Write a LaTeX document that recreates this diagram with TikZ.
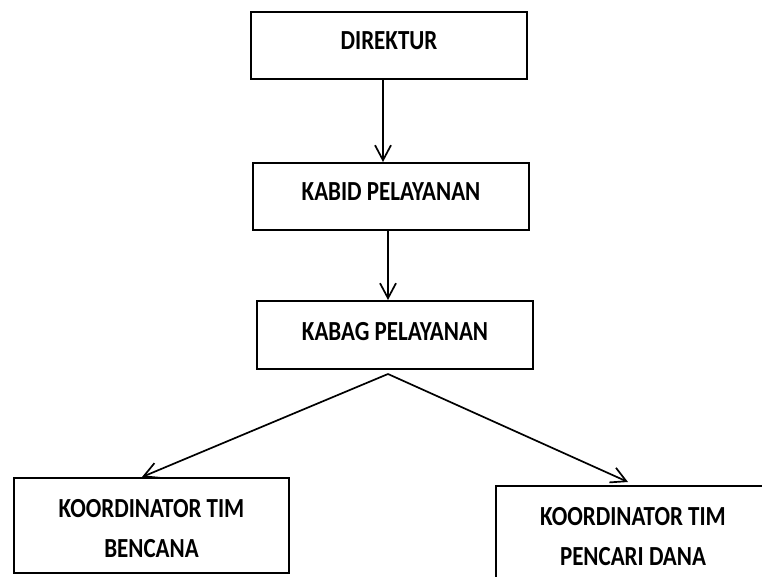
\documentclass[tikz,border=0pt]{standalone}
\usepackage{fontspec}
\usepackage{graphicx}
\setmainfont{Carlito}
\usetikzlibrary{arrows.meta}
\newcommand{\tall}[1]{\scalebox{1}[1.2]{#1}}
\tikzset{
  box/.style={draw=black, line width=2pt, rectangle, inner sep=0pt},
  lab/.style={font=\bfseries\fontsize{23}{40}\selectfont, align=center, inner sep=0pt},
  conn/.style={draw=black, line width=1.7pt, -{Straight Barb[length=15pt,width=16pt,line width=1.7pt]}}
}
\begin{document}
\begin{tikzpicture}[x=1pt,y=-1pt]
\clip (0,0) rectangle (762,577);
\fill[white] (0,0) rectangle (762,577);
\node[box, minimum width=276pt, minimum height=67pt,
  label={[lab,yshift=5pt]center:\tall{DIREKTUR}}] (dir) at (389,45.5) {};
\node[box, minimum width=276pt, minimum height=67pt,
  label={[lab,yshift=5pt]center:\tall{KABID PELAYANAN}}] (kabid) at (391,196.5) {};
\node[box, minimum width=276pt, minimum height=68pt,
  label={[lab,yshift=3.5pt]center:\tall{KABAG PELAYANAN}}] (kabag) at (395,335) {};
\node[box, minimum width=275pt, minimum height=95pt,
  label={[lab,yshift=-3.5pt]center:\tall{KOORDINATOR TIM}\\\tall{BENCANA}}] (left) at (151.5,525.5) {};
\node[box, minimum width=274pt, minimum height=96pt,
  label={[lab,yshift=-2.5pt]center:\tall{KOORDINATOR TIM}\\\tall{PENCARI DANA}}] (right) at (633,534) {};
\coordinate (fork) at ([xshift=-7pt,yshift=-4pt]kabag.south);
\draw[conn] ([xshift=-6pt]dir.south) -- ([xshift=-8pt]kabid.north);
\draw[conn] ([xshift=-3pt]kabid.south) -- ([xshift=-7pt]kabag.north);
\draw[conn] (fork) -- ([xshift=-9.5pt]left.north);
\draw[conn] (fork) -- ([xshift=-5pt,yshift=3pt]right.north);
\end{tikzpicture}
\end{document}
